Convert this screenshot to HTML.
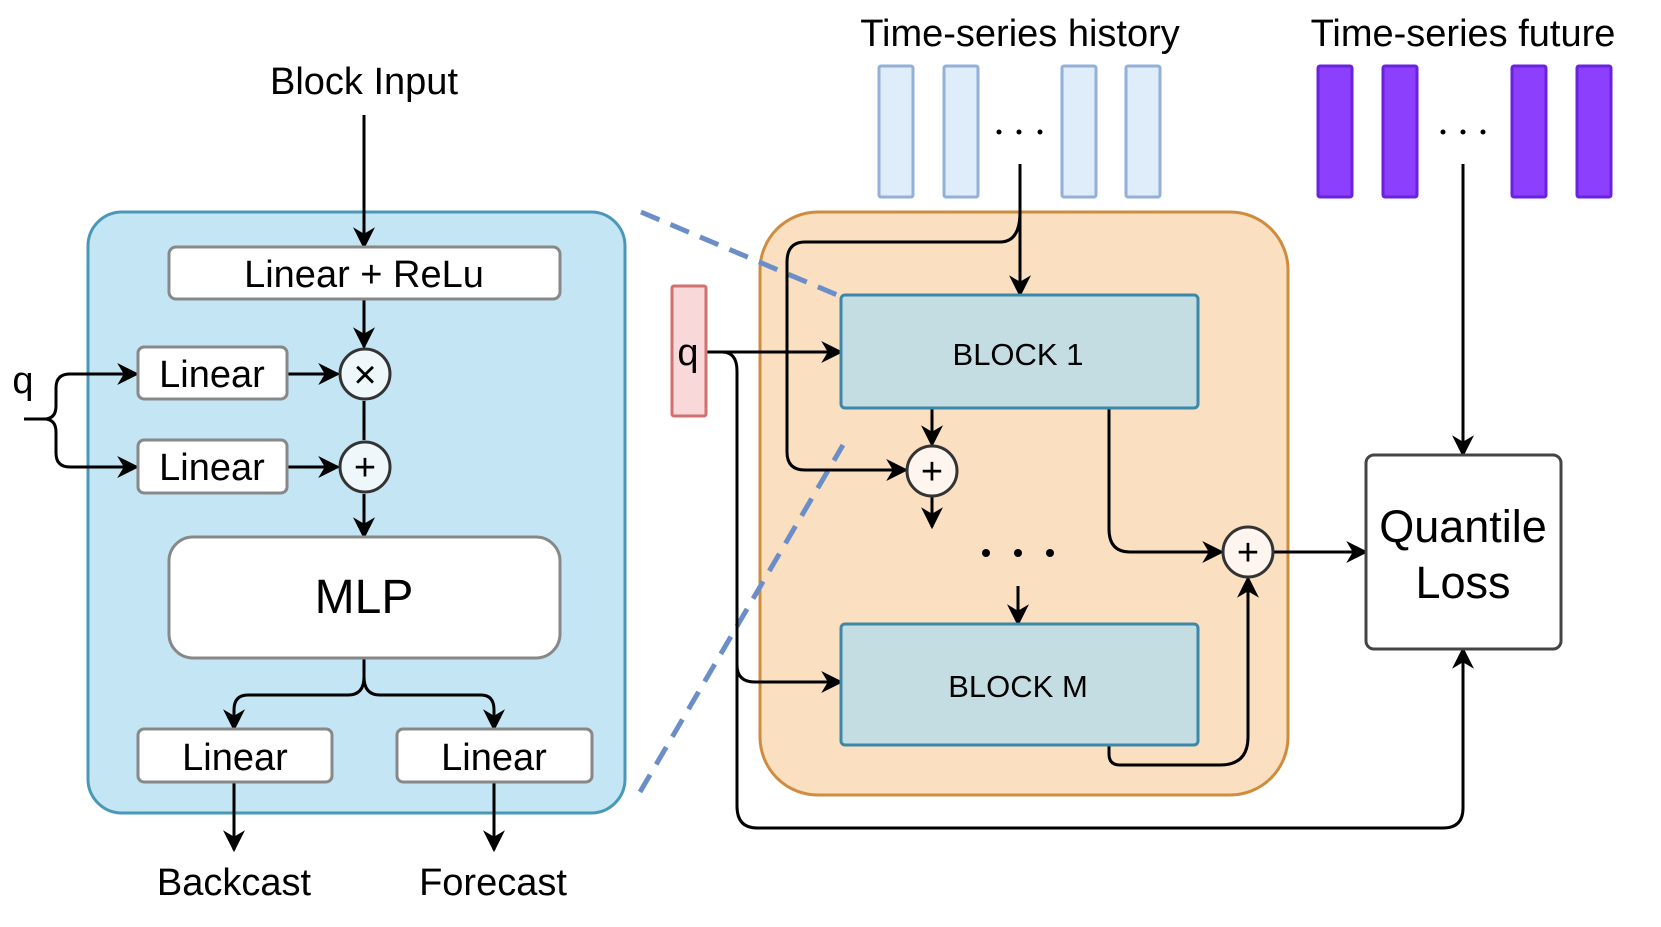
<!DOCTYPE html>
<html><head><meta charset="utf-8"><style>body{margin:0;background:#fff}svg{display:block}text{font-family:"Liberation Sans",sans-serif;fill:#000}</style></head><body>
<svg width="1661" height="927" viewBox="0 0 1661 927" xmlns="http://www.w3.org/2000/svg">
<defs>
<marker id="b" viewBox="0 0 10 10" refX="9" refY="5" markerWidth="22" markerHeight="22" orient="auto" markerUnits="userSpaceOnUse"><path d="M0,0 L10,5 L0,10 L3,5z" fill="#000"/></marker></defs>
<rect x="88" y="212" width="537" height="601" rx="34" fill="#c4e5f4" stroke="#4a98b8" stroke-width="3"/>
<text x="364" y="94" font-size="38" text-anchor="middle">Block Input</text>
<g stroke="#000" stroke-width="3" fill="none">
<path d="M364 115V247" marker-end="url(#b)"/>
<path d="M364 299V347" marker-end="url(#b)"/>
<path d="M364 401V440"/>
<path d="M364 494V537" marker-end="url(#b)"/>
<path d="M287 374H338" marker-end="url(#b)"/>
<path d="M287 467H338" marker-end="url(#b)"/>
<path d="M24 419H44Q56 419 56 406V388Q56 374 70 374H137" marker-end="url(#b)"/>
<path d="M44 419Q56 419 56 432V453Q56 467 70 467H137" marker-end="url(#b)"/>
<path d="M364 658V677Q364 695 348 695H248Q234 695 234 710V729" marker-end="url(#b)"/>
<path d="M364 677Q364 695 380 695H481Q494 695 494 710V729" marker-end="url(#b)"/>
<path d="M234 782V850" marker-end="url(#b)"/>
<path d="M494 782V850" marker-end="url(#b)"/>
</g>
<rect x="169" y="247" width="391" height="52" rx="7" fill="#fff" stroke="#888" stroke-width="3"/>
<text x="364" y="287" font-size="38" text-anchor="middle">Linear + ReLu</text>
<rect x="138" y="347" width="149" height="52" rx="6" fill="#fff" stroke="#888" stroke-width="3"/>
<text x="212" y="387" font-size="38" text-anchor="middle">Linear</text>
<rect x="138" y="440" width="149" height="53" rx="6" fill="#fff" stroke="#888" stroke-width="3"/>
<text x="212" y="480" font-size="38" text-anchor="middle">Linear</text>
<circle cx="365" cy="374" r="25" fill="#eef8fb" stroke="#333" stroke-width="3"/>
<text x="365" y="388" font-size="40" text-anchor="middle">×</text>
<circle cx="365" cy="467" r="25" fill="#eef8fb" stroke="#333" stroke-width="3"/>
<text x="365" y="480" font-size="38" text-anchor="middle">+</text>
<text x="23" y="393" font-size="38" text-anchor="middle">q</text>
<rect x="169" y="537" width="391" height="121" rx="24" fill="#fff" stroke="#888" stroke-width="3"/>
<text x="364" y="613" font-size="48" text-anchor="middle">MLP</text>
<rect x="138" y="729" width="194" height="53" rx="6" fill="#fff" stroke="#888" stroke-width="3"/>
<text x="235" y="770" font-size="38" text-anchor="middle">Linear</text>
<rect x="397" y="729" width="195" height="53" rx="6" fill="#fff" stroke="#888" stroke-width="3"/>
<text x="494" y="770" font-size="38" text-anchor="middle">Linear</text>
<text x="234" y="895" font-size="38" text-anchor="middle">Backcast</text>
<text x="493" y="895" font-size="38" text-anchor="middle">Forecast</text>
<rect x="760" y="212" width="528" height="583" rx="58" fill="#fae0c0" stroke="#cf8c3e" stroke-width="3"/>
<text x="1020" y="46" font-size="38" text-anchor="middle">Time-series history</text>
<g fill="#dfecfa" stroke="#92b0d8" stroke-width="3"><rect x="879" y="66" width="34" height="131" rx="2"/><rect x="944" y="66" width="34" height="131" rx="2"/><rect x="1062" y="66" width="34" height="131" rx="2"/><rect x="1126" y="66" width="34" height="131" rx="2"/></g>
<g fill="#000"><circle cx="999" cy="132" r="2.5"/><circle cx="1019" cy="132" r="2.5"/><circle cx="1040" cy="132" r="2.5"/><circle cx="1443" cy="132" r="2.5"/><circle cx="1463" cy="132" r="2.5"/><circle cx="1483" cy="132" r="2.5"/><circle cx="986" cy="553" r="4"/><circle cx="1018" cy="553" r="4"/><circle cx="1050" cy="553" r="4"/></g>
<text x="1463" y="46" font-size="38" text-anchor="middle">Time-series future</text>
<g fill="#8c3ffc" stroke="#6a22e0" stroke-width="3"><rect x="1318" y="66" width="34" height="131" rx="2"/><rect x="1383" y="66" width="34" height="131" rx="2"/><rect x="1512" y="66" width="34" height="131" rx="2"/><rect x="1577" y="66" width="34" height="131" rx="2"/></g>
<g stroke="#6c8ec8" stroke-width="5" stroke-dasharray="20,12" fill="none"><path d="M641 212L842 297"/><path d="M640 792L843 445"/></g>
<g stroke="#000" stroke-width="3" fill="none">
<path d="M1020 164V295" marker-end="url(#b)"/>
<path d="M1020 212Q1020 242 1000 242H805Q787 242 787 262V452Q787 470 805 470H906" marker-end="url(#b)"/>
<path d="M932 408V445" marker-end="url(#b)"/>
<path d="M932 497V527" marker-end="url(#b)"/>
<path d="M1018 586V624" marker-end="url(#b)"/>
<path d="M706 352H841" marker-end="url(#b)"/>
<path d="M706 352H722Q737 352 737 371V665Q737 682 755 682H841" marker-end="url(#b)"/>
<path d="M737 659V806Q737 828 757 828H1443Q1463 828 1463 808V649" marker-end="url(#b)"/>
<path d="M1109 408V529Q1109 552 1130 552H1222" marker-end="url(#b)"/>
<path d="M1109 745V754Q1109 765 1120 765H1220Q1248 765 1248 737V578" marker-end="url(#b)"/>
<path d="M1274 552H1366" marker-end="url(#b)"/>
<path d="M1463 164V455" marker-end="url(#b)"/>
</g>
<rect x="672" y="286" width="34" height="130" rx="2" fill="#f8d8d8" stroke="#d07070" stroke-width="3"/>
<text x="688" y="365" font-size="38" text-anchor="middle">q</text>
<rect x="841" y="295" width="357" height="113" rx="4" fill="#c3dde2" stroke="#3d88a8" stroke-width="3"/>
<text x="1018" y="365" font-size="31" text-anchor="middle">BLOCK 1</text>
<rect x="841" y="624" width="357" height="121" rx="4" fill="#c3dde2" stroke="#3d88a8" stroke-width="3"/>
<text x="1018" y="697" font-size="31" text-anchor="middle">BLOCK M</text>
<circle cx="932" cy="471" r="25" fill="#fdf5ee" stroke="#333" stroke-width="3"/>
<text x="932" y="484" font-size="38" text-anchor="middle">+</text>
<circle cx="1248" cy="552" r="25" fill="#fdf5ee" stroke="#333" stroke-width="3"/>
<text x="1248" y="565" font-size="38" text-anchor="middle">+</text>
<rect x="1366" y="455" width="195" height="194" rx="8" fill="#fff" stroke="#444" stroke-width="3"/>
<text x="1463" y="542" font-size="45" text-anchor="middle">Quantile</text>
<text x="1463" y="598" font-size="45" text-anchor="middle">Loss</text>
</svg>
</body></html>
